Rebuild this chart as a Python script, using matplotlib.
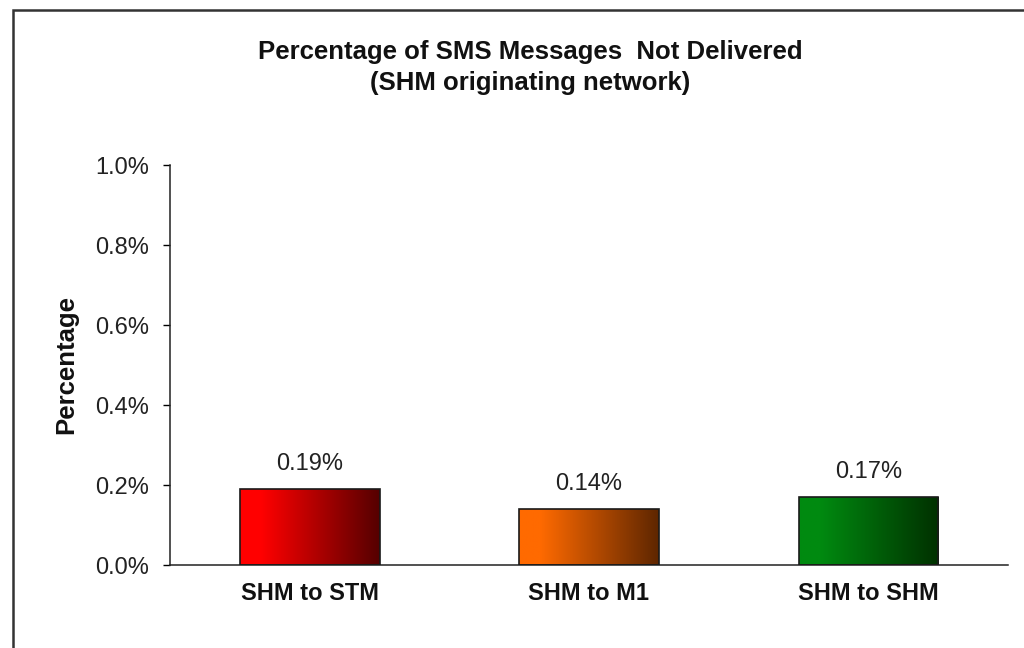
import numpy as np
import matplotlib.pyplot as plt
from matplotlib.colors import LinearSegmentedColormap
from matplotlib.patches import Rectangle

plt.rcParams['font.family'] = ['Liberation Sans', 'DejaVu Sans']

categories = ['SHM to STM', 'SHM to M1', 'SHM to SHM']
values = [0.19, 0.14, 0.17]  # percent
value_labels = ['0.19%', '0.14%', '0.17%']
y_ticks = [0.0, 0.2, 0.4, 0.6, 0.8, 1.0]
bar_gradients = [('#ff0000', '#550000'), ('#ff6a00', '#5e2600'), ('#008a10', '#003000')]

fig = plt.figure(figsize=(10.24, 6.48), dpi=100)
ax = fig.add_axes([170 / 1024, 1 - 565 / 648, 838 / 1024, 400 / 648])

x = np.arange(len(categories))
bars = ax.bar(x, values, width=0.5, facecolor='none', edgecolor='#1a1a1a', linewidth=1.2, zorder=3)

# horizontal gradient fill for each bar, clipped to the bar outline
grad = np.linspace(0, 1, 256).reshape(1, -1)
for bar, (c0, c1) in zip(bars, bar_gradients):
    cmap = LinearSegmentedColormap.from_list('g', [(0, c0), (0.15, c0), (1, c1)])
    bx, by = bar.get_x(), bar.get_y()
    bw, bh = bar.get_width(), bar.get_height()
    im = ax.imshow(grad, cmap=cmap, aspect='auto', extent=[bx, bx + bw, by, by + bh], zorder=2)
    im.set_clip_path(bar)

for xi, v, lab in zip(x, values, value_labels):
    ax.annotate(lab, (xi, v), xytext=(0, 10), textcoords='offset points',
                ha='center', va='bottom', fontsize=17, color='#222222')

ax.set_xlim(-0.5, len(categories) - 0.5)
ax.set_ylim(0, 1.0)
ax.set_yticks(y_ticks)
ax.set_yticklabels(['%.1f%%' % t for t in y_ticks], fontsize=17, color='#222222')
ax.set_xticks(x)
ax.set_xticklabels(categories, fontsize=17, fontweight='bold', color='#111111')
ax.tick_params(axis='x', length=0, pad=12)
ax.tick_params(axis='y', length=5, width=1, pad=10, direction='out')
for s in ['top', 'right']:
    ax.spines[s].set_visible(False)
for s in ['left', 'bottom']:
    ax.spines[s].set_linewidth(1.1)
    ax.spines[s].set_color('#222222')

ax.set_ylabel('Percentage', fontsize=18.5, fontweight='bold', color='#111111')
ax.yaxis.set_label_coords(-0.11, 0.5)

fig.text(530 / 1024, 1 - 52 / 648, 'Percentage of SMS Messages  Not Delivered',
         ha='center', va='center', fontsize=18.5, fontweight='bold', color='#111111')
fig.text(530 / 1024, 1 - 83 / 648, '(SHM originating network)',
         ha='center', va='center', fontsize=18.5, fontweight='bold', color='#111111')

# outer chart border
fig.patches.append(Rectangle((13 / 1024, -0.1), 1.2, 1.1 - 10 / 648, transform=fig.transFigure,
                             facecolor='none', edgecolor='#333333', linewidth=1.8))

fig.savefig('out.png', dpi=100)
